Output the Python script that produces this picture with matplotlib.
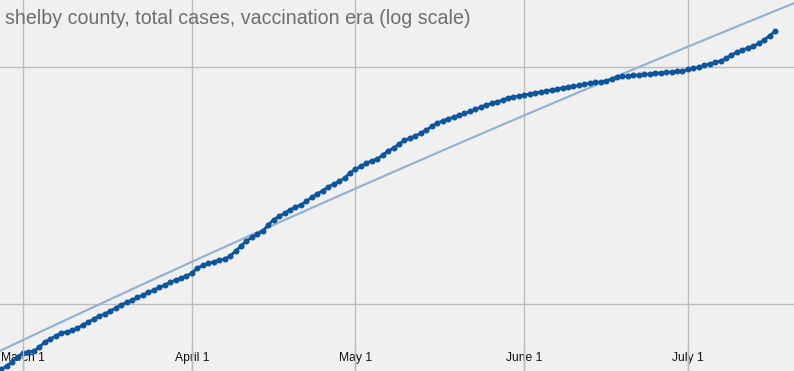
import matplotlib
matplotlib.use("Agg")
import matplotlib.pyplot as plt
import matplotlib.dates as mdates
import numpy as np
import pandas as pd

title = "shelby county, total cases, vaccination era (log scale)"
dates = pd.date_range("2021-02-25", "2021-07-17", freq="D")
total_cases = [
    87412, 87548, 87704, 87900, 88056, 88095, 88134, 88291, 88488, 88606,
    88725, 88843, 88882, 88941, 89041, 89160, 89278, 89399, 89518, 89597,
    89716, 89836, 89956, 90057, 90157, 90257, 90357, 90458, 90558, 90659,
    90760, 90861, 90962, 91042, 91124, 91245, 91449, 91551, 91632, 91693,
    91775, 91816, 91938, 92142, 92348, 92554, 92698, 92842, 92966, 93215,
    93442, 93568, 93713, 93838, 93964, 94048, 94194, 94383, 94508, 94655,
    94803, 94930, 95036, 95184, 95395, 95565, 95672, 95821, 95906, 95992,
    96163, 96333, 96462, 96634, 96786, 96892, 96979, 97108, 97237, 97389,
    97541, 97627, 97715, 97802, 97867, 97954, 98041, 98128, 98237, 98325,
    98391, 98456, 98544, 98632, 98676, 98719, 98763, 98807, 98851, 98894,
    98938, 98982, 99026, 99071, 99115, 99137, 99181, 99226, 99292, 99314,
    99336, 99381, 99469, 99558, 99580, 99602, 99624, 99646, 99668, 99690,
    99713, 99735, 99757, 99779, 99801, 99823, 99889, 99934, 100000, 100068,
    100134, 100201, 100268, 100379, 100535, 100670, 100759, 100849, 100939, 101051,
    101209, 101411, 101592,
]
tick_dates = ["2021-03-01", "2021-04-01", "2021-05-01", "2021-06-01", "2021-07-01"]
tick_labels = ["March 1", "April 1", "May 1", "June 1", "July 1"]
y_grid = [90000, 100000]

GRID = "#bdbdbd"
BG = "#f0f0f0"

fig = plt.figure(figsize=(7.94, 3.71), dpi=100)
fig.patch.set_facecolor(BG)
ax = fig.add_axes([0, 0, 1, 1])
ax.set_facecolor(BG)
for s in ax.spines.values():
    s.set_visible(False)

ax.set_yscale("log")
x0 = pd.Timestamp("2021-03-01")
xmin = mdates.date2num(x0) - 4.22
xmax = mdates.date2num(x0) + 141.47
ax.set_xlim(xmin, xmax)
ax.set_ylim(87353, 103025)

xd = mdates.date2num(dates)
ax.plot(xd, total_cases, color="#0d559c", lw=2.0, marker="o", ms=3.3,
        zorder=4, solid_capstyle="round")

# linear trendline (least squares on values)
coef = np.polyfit(xd, total_cases, 1)
tx = np.linspace(xmin, xmax, 300)
ax.plot(tx, np.polyval(coef, tx), color="#93b3d1", lw=1.6, zorder=3)

tick_x = mdates.date2num(pd.to_datetime(tick_dates))
ax.set_xticks(tick_x)
ax.set_xticklabels(tick_labels, fontsize=8.7, family="Liberation Sans", color="#111111")
ax.tick_params(axis="x", length=0, pad=-13.5)
for lbl in ax.get_xticklabels():
    lbl.set_bbox(dict(boxstyle="square,pad=0.15", facecolor=BG, edgecolor="none"))
ax.xaxis.set_zorder(5)

# vertical grid: under the data, plus the part that shows through the labels
for xv in tick_x:
    ax.axvline(xv, color=GRID, lw=1, zorder=1)
    ax.axvline(xv, ymin=0, ymax=0.065, color=GRID, lw=1, zorder=6)

ax.set_yticks(y_grid)
ax.yaxis.set_minor_locator(matplotlib.ticker.NullLocator())
ax.set_yticklabels([])
ax.tick_params(axis="y", length=0)
ax.yaxis.grid(True, color=GRID, lw=1)
ax.set_axisbelow(True)

ax.text(5 / 794, 1 - 18 / 371, title, transform=ax.transAxes, fontsize=14.1,
        family="Liberation Sans", color="#6e6e6e", va="center", ha="left", zorder=7)

fig.savefig("out.png", dpi=100, facecolor=fig.get_facecolor())
